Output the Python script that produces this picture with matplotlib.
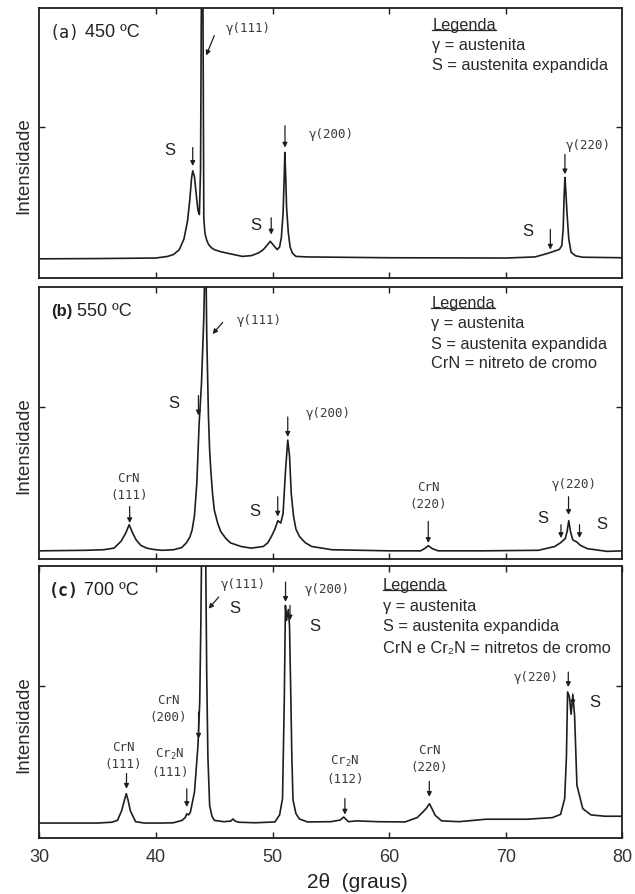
import numpy as np
import matplotlib
matplotlib.use("Agg")
import matplotlib.pyplot as plt
from matplotlib.lines import Line2D

plt.rcParams['mathtext.fontset'] = 'custom'
plt.rcParams['mathtext.rm'] = 'DejaVu Sans Mono'
plt.rcParams['mathtext.it'] = 'DejaVu Sans Mono'

# ---------------- data (2theta in degrees, intensity in arbitrary units 0-100) --------------
x_ticks = [30, 40, 50, 60, 70, 80]

# (a) 450 C
a_x = [30, 35, 40, 41.0, 41.5, 42.0, 42.4, 42.7, 42.9, 43.05, 43.15, 43.3, 43.45, 43.6, 43.72,
       43.82, 43.9, 44.02, 44.1, 44.2, 44.35, 44.5, 44.75, 45.0, 45.5, 46.0, 47.4, 48.2, 48.8,
       49.2, 49.5, 49.8, 50.1, 50.4, 50.6, 50.75, 50.9, 51.0, 51.05, 51.12, 51.2, 51.35, 51.5,
       51.7, 52.0, 53.0, 60.0, 70.0, 72.5, 73.5, 74.2, 74.6, 74.8, 74.92, 75.0, 75.07, 75.15,
       75.25, 75.4, 75.6, 76.0, 76.6, 80]
a_y = [7.1, 7.2, 7.4, 8.0, 8.7, 10.5, 14.5, 21, 29, 37, 39.7, 37.5, 31, 25, 23.5,
       40, 110, 110, 22, 16.5, 14, 12.5, 11.2, 10.5, 9.8, 9.3, 8.0, 8.3, 9.3,
       10.5, 12, 13.6, 12.0, 10.5, 11.5, 15, 24, 38, 46.5, 38, 26, 16.7, 11.5,
       9.2, 8.0, 7.8, 7.5, 7.4, 7.8, 9.0, 10.0, 10.6, 12, 18, 30, 37.2, 32,
       24, 14.5, 9.5, 8.2, 7.7, 7.5]

# (b) 550 C
b_x = [30, 34, 35.5, 36.4, 37.0, 37.4, 37.7, 38.0, 38.3, 38.7, 39.2, 39.8, 40.5, 41.5, 42.2,
       42.6, 42.9, 43.1, 43.3, 43.5, 43.7, 43.9, 44.1, 44.2, 44.28, 44.35, 44.5, 44.6, 44.7,
       44.85, 45.0, 45.3, 45.55, 46.0, 46.4, 47.3, 48.15, 49.2, 49.6, 49.9, 50.2, 50.45, 50.7,
       50.9, 51.1, 51.3, 51.45, 51.6, 51.8, 52.0, 52.3, 52.8, 53.35, 55.1, 60, 62.7, 63.1,
       63.35, 63.7, 64.2, 68, 72.8, 74.2, 74.7, 75.1, 75.25, 75.4, 75.55, 75.75, 76.1, 76.4,
       77.0, 78.7, 80]
b_y = [3.0, 3.2, 3.4, 4.0, 6.5, 9.5, 12.6, 9.5, 7.0, 5.0, 4.0, 3.5, 3.2, 3.4, 4.2,
       5.9, 8.0, 10.7, 16, 27.8, 49.8, 64.4, 88.8, 110, 110, 82.7, 52.2, 40, 32.7,
       24, 18, 13, 10.1, 7.5, 5.9, 4.6, 4.0, 4.6, 6.0, 8.3, 11, 14.1, 13.2,
       16.8, 32, 43.7, 38, 24, 15.6, 11, 8.3, 6.0, 4.6, 3.4, 3.0, 3.0, 4.0,
       4.9, 3.8, 3.0, 3.0, 3.2, 4.6, 6.0, 7.5, 10, 14.1, 10, 7.0, 6.2, 5.0,
       3.8, 2.8, 3.0]

# (c) 700 C
c_x = [30, 33, 35, 36.2, 36.7, 37.05, 37.3, 37.45, 37.6, 37.8, 38.25, 39, 40.5, 41.5, 42.25,
       42.5, 42.65, 42.8, 42.95, 43.3, 43.6, 43.75, 43.85, 43.92, 44.25, 44.35, 44.45, 44.6,
       44.8, 45.0, 45.8, 46.4, 46.6, 46.8, 47.1, 48.5, 50.2, 50.6, 50.85, 51.0, 51.1, 51.2,
       51.35, 51.45, 51.55, 51.65, 51.75, 52.0, 52.3, 53.0, 55.0, 55.8, 56.1, 56.5, 57.2, 59,
       61.35, 62.4, 62.9, 63.2, 63.45, 63.7, 63.95, 64.5, 66, 68.3, 71.8, 74.0, 74.7, 75.05,
       75.2, 75.3, 75.45, 75.6, 75.75, 75.9, 76.1, 76.6, 77.3, 78.5, 80]
c_y = [5.5, 5.5, 5.5, 5.8, 6.5, 10, 14, 16.3, 14, 10, 6.0, 5.5, 5.5, 5.6, 6.5,
       7.5, 8.9, 8.5, 9.5, 16.9, 34, 50, 80, 110, 110, 60, 30, 12,
       8.0, 6.5, 6.0, 6.2, 7.0, 6.2, 5.8, 5.6, 5.9, 8.5, 14.5, 50, 85.5, 80,
       84, 78, 55, 30, 14, 9.0, 7.0, 5.9, 6.0, 6.6, 7.7, 6.0, 6.3, 6.0,
       5.9, 7.5, 9.6, 11, 12.6, 10.5, 8.3, 6.3, 6.0, 6.9, 6.9, 7.5, 8.7, 14.5,
       30, 53.7, 52, 45.5, 52.5, 45, 19.4, 10.8, 8.5, 8.0, 8.0]

# ---------------- styling ----------------
INK = '#1e1e1e'
LAB = '#3a3a3a'
SANS = ['Liberation Sans', 'DejaVu Sans']
MONO = ['DejaVu Sans Mono']

fig = plt.figure(figsize=(6.35, 8.95), dpi=100)
W, H = 635.0, 895.0
left, width = 39.4 / W, 583 / W
panels = [(9, 279), (288, 560), (567, 839)]
axes = []
for top, bot in panels:
    ax = fig.add_axes([left, 1 - bot / H, width, (bot - top) / H])
    axes.append(ax)

for ax in axes:
    ax.set_xlim(30, 80)
    ax.set_ylim(0, 100)
    ax.set_xticks(x_ticks[1:-1])
    ax.set_yticks([56])
    ax.set_yticklabels([])
    ax.tick_params(axis='both', direction='in', top=True, right=True, length=4, width=1.0,
                   color=INK)
    for s in ax.spines.values():
        s.set_linewidth(1.3)
        s.set_color(INK)
    ax.text(-0.027, 0.42, 'Intensidade', transform=ax.transAxes, rotation=90,
            ha='center', va='center', fontsize=13.5, family=SANS, color='#2a2a2a')

for ax in axes[:2]:
    ax.set_xticklabels([])
axes[2].set_xticks(x_ticks)
axes[2].set_xticklabels([str(t) for t in x_ticks], family=SANS, fontsize=13, color='#333333')
axes[2].tick_params(axis='x', pad=7)

traces = [(a_x, a_y), (b_x, b_y), (c_x, c_y)]
for ax, (xs, ys) in zip(axes, traces):
    ax.plot(xs, ys, color=INK, lw=1.2, solid_joinstyle='round')


def arrow(ax, x0, y0, x1, y1):
    ax.annotate('', xy=(x1, y1), xytext=(x0, y0),
                arrowprops=dict(arrowstyle='-|>', lw=0.9, color=INK, mutation_scale=7,
                                shrinkA=0, shrinkB=0))


def mlab(ax, x, y, s, fs=9):
    ax.text(x, y, s, ha='center', va='center', family=MONO, fontsize=fs, color=LAB,
            linespacing=1.4)


def slab(ax, x, y, s='S'):
    ax.text(x, y, s, ha='center', va='center', family=SANS, fontsize=12, color='#222222')


# panel titles
titles = [('(a)', ' 450 ºC', 30.87, 91.2, 'normal'), ('(b)', ' 550 ºC', 31.0, 91.3, 'bold'),
          ('(c)', ' 700 ºC', 30.8, 91.2, 'bold')]

# ---- (a)
ax = axes[0]
slab(ax, 41.14, 47.5); arrow(ax, 43.15, 48.3, 43.15, 41.5)
mlab(ax, 47.9, 92.6, 'γ(111)'); arrow(ax, 45.0, 89.8, 44.3, 82.4)
slab(ax, 48.6, 19.8); arrow(ax, 49.88, 22.3, 49.88, 16.1)
mlab(ax, 55.0, 53.7, 'γ(200)'); arrow(ax, 51.06, 56.4, 51.06, 48.3)
mlab(ax, 77.1, 49.6, 'γ(220)'); arrow(ax, 75.07, 45.8, 75.07, 38.4)
slab(ax, 71.9, 17.7); arrow(ax, 73.82, 18.0, 73.82, 10.5)

# ---- (b)
ax = axes[1]
mlab(ax, 37.67, 27.0, 'CrN\n(111)'); arrow(ax, 37.74, 19.3, 37.74, 13.2)
slab(ax, 41.49, 57.7); arrow(ax, 43.64, 60.1, 43.64, 52.8)
mlab(ax, 48.84, 88.2, 'γ(111)'); arrow(ax, 45.72, 87.0, 44.85, 82.7)
mlab(ax, 54.8, 53.7, 'γ(200)'); arrow(ax, 51.3, 52.2, 51.3, 44.9)
slab(ax, 48.5, 18.0); arrow(ax, 50.44, 22.9, 50.44, 15.6)
mlab(ax, 63.35, 23.4, 'CrN\n(220)'); arrow(ax, 63.35, 13.8, 63.35, 5.9)
mlab(ax, 75.9, 27.8, 'γ(220)'); arrow(ax, 75.38, 22.9, 75.38, 16.2)
slab(ax, 73.13, 15.4); arrow(ax, 74.73, 12.6, 74.73, 7.7)
slab(ax, 78.23, 13.2); arrow(ax, 76.32, 12.6, 76.32, 7.7)

# ---- (c)
ax = axes[2]
mlab(ax, 47.53, 93.5, 'γ(111)'); arrow(ax, 45.38, 88.6, 44.51, 84.3)
slab(ax, 46.77, 84.6)
arrow(ax, 51.11, 94.1, 51.11, 86.8); mlab(ax, 54.69, 91.7, 'γ(200)')
arrow(ax, 51.49, 85.5, 51.49, 80.0)
slab(ax, 53.6, 78.2)
mlab(ax, 72.64, 59.2, 'γ(220)'); arrow(ax, 75.36, 61.0, 75.36, 55.5)
arrow(ax, 75.74, 53.0, 75.74, 48.8)
slab(ax, 77.67, 50.0)
mlab(ax, 41.04, 47.7, 'CrN\n(200)'); arrow(ax, 43.65, 46.3, 43.65, 36.5)
mlab(ax, 37.22, 30.4, 'CrN\n(111)'); arrow(ax, 37.47, 23.7, 37.47, 18.1)
mlab(ax, 41.2, 28.0, 'Cr$_2$N\n(111)'); arrow(ax, 42.64, 18.1, 42.64, 11.4)
mlab(ax, 56.2, 25.3, 'Cr$_2$N\n(112)'); arrow(ax, 56.2, 14.5, 56.2, 8.6)
mlab(ax, 63.44, 29.5, 'CrN\n(220)'); arrow(ax, 63.44, 20.8, 63.44, 15.1)

for ax, (p, t, x, y, wt) in zip(axes, titles):
    tp = ax.text(x, y, p, ha='left', va='center', family=MONO if p != '(b)' else SANS,
                 fontsize=12, fontweight=wt, color='#222222')
    fig.canvas.draw()
    bb = tp.get_window_extent()
    xd = ax.transData.inverted().transform((bb.x1, 0))[0]
    ax.text(xd, y, t, ha='left', va='center', family=SANS, fontsize=13, color='#222222')

# legends
legends = [
    (axes[0], 63.7, [93.8, 86.4, 78.9],
     ['Legenda', 'γ = austenita', 'S = austenita expandida']),
    (axes[1], 63.6, [94.3, 87.0, 79.4, 72.1],
     ['Legenda', 'γ = austenita', 'S = austenita expandida', 'CrN = nitreto de cromo']),
    (axes[2], 59.44, [93.1, 85.5, 78.2, 70.2],
     ['Legenda', 'γ = austenita', 'S = austenita expandida', 'CrN e Cr₂N = nitretos de cromo']),
]
fig.canvas.draw()
for ax, lx, ys, lines in legends:
    for i, (yy, s) in enumerate(zip(ys, lines)):
        t = ax.text(lx, yy, s, ha='left', va='center', family=SANS, fontsize=11.8,
                    color='#2a2a2a')
        if i == 0:
            fig.canvas.draw()
            bb = t.get_window_extent()
            uy = bb.y0 + 2.5
            fig.add_artist(Line2D([bb.x0 / W, bb.x1 / W], [uy / H, uy / H],
                                  transform=fig.transFigure, color='#2a2a2a', lw=0.9))

fig.text(357 / W, 1 - 883 / H, '2θ  (graus)', ha='center', va='center', family=SANS,
         fontsize=15, color='#222222')

fig.savefig('out.png', dpi=100)
